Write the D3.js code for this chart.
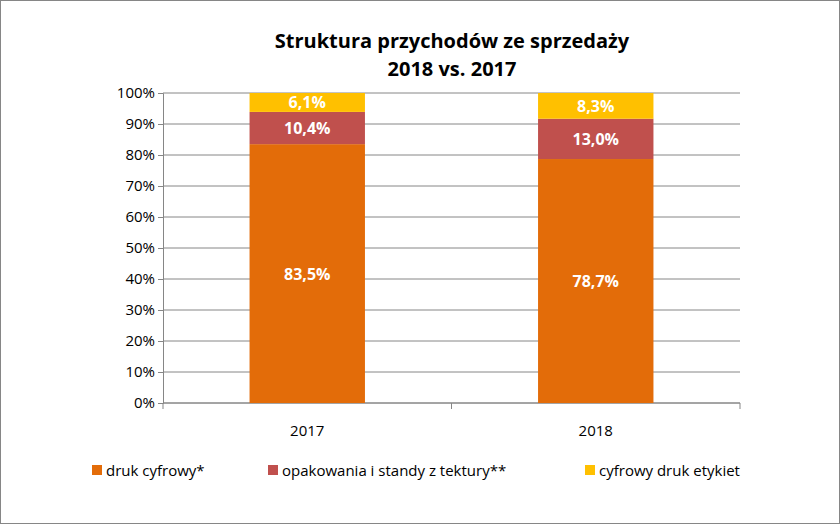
<!DOCTYPE html><html><head><meta charset="utf-8"><script src="https://cdn.jsdelivr.net/npm/d3@7"></script>
<style>body{margin:0;background:#fff}svg{font-family:"Open Sans",sans-serif}</style></head><body><svg id="c" width="840" height="524"></svg>
<script>
const categories=["2017","2018"];
const druk=[83.5,78.7];
const opak=[10.4,13.0];
const etyk=[6.1,8.3];
const seriesNames=["druk cyfrowy*","opakowania i standy z tektury**","cyfrowy druk etykiet"];
const colors=["#E36C09","#C0504D","#FFC000"];
const yTicks=[0,10,20,30,40,50,60,70,80,90,100];
const svg=d3.select("#c");
svg.append("rect").attr("x",0.5).attr("y",0.5).attr("width",839).attr("height",523).attr("fill","#fff").attr("stroke","#868686");
svg.append("text").attr("x",452).attr("y",48).attr("text-anchor","middle").attr("font-weight","bold").attr("font-size",20).text("Struktura przychodów ze sprzedaży");
svg.append("text").attr("x",452).attr("y",76).attr("text-anchor","middle").attr("font-weight","bold").attr("font-size",20).text("2018 vs. 2017");
const x=d3.scaleBand().domain(categories).range([163,740]).paddingInner(0).paddingOuter(0);
const y=d3.scaleLinear().domain([0,100]).range([403,93]);
svg.append("g").selectAll("line").data(yTicks).join("line").attr("x1",163).attr("x2",740).attr("y1",d=>y(d)).attr("y2",d=>y(d)).attr("stroke","#868686");
const ya=svg.append("g").attr("transform","translate(163,0)").call(d3.axisLeft(y).tickValues(yTicks).tickFormat(d=>d+"%").tickSize(5));
ya.selectAll("text").attr("font-size",15).attr("fill","#000").attr("font-family","Open Sans");
ya.selectAll("line,path").attr("stroke","#868686");
const xa=svg.append("g").attr("transform","translate(0,403)");
xa.append("line").attr("x1",163).attr("x2",740).attr("stroke","#868686");
[163,163+x.bandwidth(),740].forEach(v=>xa.append("line").attr("x1",v).attr("x2",v).attr("y1",0).attr("y2",6).attr("stroke","#868686"));
categories.forEach(c=>xa.append("text").attr("x",x(c)+x.bandwidth()/2).attr("y",33).attr("text-anchor","middle").attr("font-size",15).text(c));
const data=categories.map((c,i)=>({cat:c,vals:[druk[i],opak[i],etyk[i]]}));
const bw=x.bandwidth()*0.4;
data.forEach(d=>{let acc=0;const cx=x(d.cat)+x.bandwidth()/2;
 d.vals.forEach((v,j)=>{const y0=acc,y1=Math.min(100,acc+v);acc+=v;
  svg.append("rect").attr("x",cx-bw/2).attr("width",bw).attr("y",y(y1)).attr("height",y(y0)-y(y1)).attr("fill",colors[j]);
  svg.append("text").attr("x",cx).attr("y",(y(y0)+y(y1))/2+6).attr("text-anchor","middle").attr("fill","#fff").attr("font-weight","bold").attr("font-size",16).text(v.toFixed(1).replace(".",",")+"%");
 });});
const lx=[92,268,585];
seriesNames.forEach((n,i)=>{svg.append("rect").attr("x",lx[i]).attr("y",465).attr("width",10).attr("height",10).attr("fill",colors[i]);
 svg.append("text").attr("x",lx[i]+14).attr("y",476).attr("font-size",15).text(n);});
</script></body></html>
